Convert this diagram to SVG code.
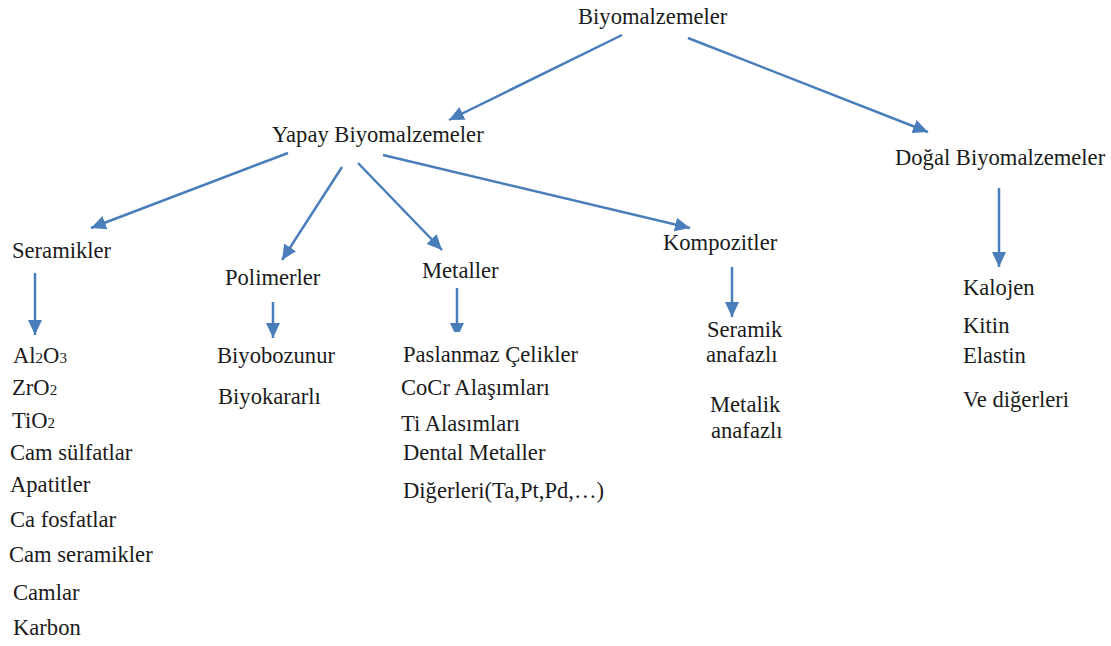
<svg xmlns="http://www.w3.org/2000/svg" width="1111" height="646" viewBox="0 0 1111 646">
  <defs>
    <style>
      text { font-family: "Liberation Serif", "Times New Roman", serif; font-size: 22.6px; fill: #1b1b1b; }
      .sub { font-size: 15px; }
      .edge { stroke: #4a7ebb; stroke-width: 2.5; fill: none; marker-end: url(#arrow); }
    </style>
    <marker id="arrow" markerUnits="userSpaceOnUse" markerWidth="16" markerHeight="16" viewBox="0 0 16 16" refX="15" refY="8" orient="auto">
      <path d="M0,1 L15,8 L0,15 Z" fill="#4a7ebb"/>
    </marker>
    <!-- blunt tip under "Metaller" -->
    <clipPath id="metalClip"><rect x="440" y="280" width="40" height="52"/></clipPath>
    <!-- lower edge of "Ti Alaşımları" hidden by the next row -->
    <clipPath id="tiClip"><rect x="390" y="400" width="200" height="31"/></clipPath>
  </defs>

  <rect width="1111" height="646" fill="#ffffff"/>

  <g id="connectors">
    <line class="edge" x1="622" y1="35" x2="449" y2="120"/>
    <line class="edge" x1="688" y1="38" x2="928" y2="132"/>
    <line class="edge" x1="288" y1="153" x2="91" y2="228"/>
    <line class="edge" x1="342" y1="167" x2="282" y2="260"/>
    <line class="edge" x1="358" y1="163" x2="442" y2="250"/>
    <line class="edge" x1="383" y1="155" x2="690" y2="228"/>
    <line class="edge" x1="35" y1="273" x2="35" y2="335"/>
    <line class="edge" x1="273" y1="302" x2="273" y2="338"/>
    <line class="edge" x1="457" y1="288" x2="457" y2="338" clip-path="url(#metalClip)"/>
    <line class="edge" x1="732" y1="267" x2="732" y2="317"/>
    <line class="edge" x1="999" y1="188" x2="999" y2="267"/>
  </g>

  <g id="biyomalzemeler"><text x="578" y="24">Biyomalzemeler</text></g>
  <g id="yapay"><text x="272" y="142">Yapay Biyomalzemeler</text></g>
  <g id="dogal"><text x="895" y="165">Doğal Biyomalzemeler</text></g>

  <g id="seramikler"><text x="12" y="258">Seramikler</text></g>
  <g id="polimerler"><text x="225" y="285">Polimerler</text></g>
  <g id="metaller"><text x="422" y="278">Metaller</text></g>
  <g id="kompozitler"><text x="663" y="250">Kompozitler</text></g>

  <g id="seramik-list">
    <text x="13" y="363">Al<tspan class="sub">2</tspan>O<tspan class="sub">3</tspan></text>
    <text x="12" y="395">ZrO<tspan class="sub">2</tspan></text>
    <text x="12" y="428">TiO<tspan class="sub">2</tspan></text>
    <text x="10" y="460">Cam sülfatlar</text>
    <text x="10" y="492">Apatitler</text>
    <text x="10" y="527">Ca fosfatlar</text>
    <text x="9" y="562">Cam seramikler</text>
    <text x="13" y="600">Camlar</text>
    <text x="13" y="635">Karbon</text>
  </g>

  <g id="polimer-list">
    <text x="217" y="363">Biyobozunur</text>
    <text x="218" y="404">Biyokararlı</text>
  </g>

  <g id="metal-list">
    <text x="403" y="362">Paslanmaz Çelikler</text>
    <text x="401" y="395">CoCr Alaşımları</text>
    <text x="401" y="431" clip-path="url(#tiClip)">Ti Alaşımları</text>
    <text x="403" y="460">Dental Metaller</text>
    <text x="403" y="498">Diğerleri(Ta,Pt,Pd,…)</text>
  </g>

  <g id="kompozit-list">
    <text x="707" y="337">Seramik</text>
    <text x="706" y="362">anafazlı</text>
    <text x="710" y="412">Metalik</text>
    <text x="711" y="438">anafazlı</text>
  </g>

  <g id="dogal-list">
    <text x="963" y="295">Kalojen</text>
    <text x="963" y="333">Kitin</text>
    <text x="963" y="363">Elastin</text>
    <text x="963" y="407">Ve diğerleri</text>
  </g>
</svg>
